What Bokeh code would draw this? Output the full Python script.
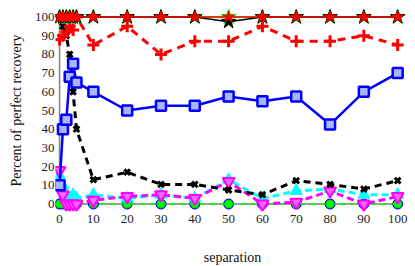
from bokeh.plotting import figure
from bokeh.models import Range1d, FixedTicker
from bokeh.embed import file_html
from bokeh.resources import INLINE

# separation values
xs = [0, 1, 2, 3, 4, 5, 10, 20, 30, 40, 50, 60, 70, 80, 90, 100]

red_star   = [100, 100, 100, 100, 100, 100, 100, 100, 100, 100, 100, 100, 100, 100, 100, 100]
black_star = [100, 100, 100, 100, 100, 100, 100, 100, 100, 100, 97.5, 100, 100, 100, 100, 100]
green_star = [100, 100, 100, 100, 100, 100, 100, 100, 100, 100, 100, 100, 100, 100, 100, 100]
red_plus   = [88, 90, 92, 95, 93, 100, 85, 95, 80, 87, 87, 95, 87, 87, 90, 85]
blue_sq    = [10, 40, 45, 68, 75, 65, 60, 50, 52.5, 52.5, 57.5, 55, 57.5, 42.5, 60, 70]
black_x    = [100, 95, 90, 80, 60, 40, 13, 17, 10.5, 10.5, 7.5, 5, 12.5, 10.5, 8, 12.5]
cyan_tri   = [15, 10, 5, 3, 5, 3, 5, 3, 5, 3, 13, 3, 7, 8, 5, 5]
mag_tri    = [18, 5, 0, 0, 0, 0, 2, 4, 5, 3, 12, 0, 1, 7, 0, 4]
green_circ = [0, 0, 0, 0, 0, 0, 0, 0, 0, 0, 0, 0, 0, 0, 0, 0]
blue_circ  = [0, 0, 0, 0, 0, 0, 0, 0, 0, 0, 0, 0, 0, 0, 0, 0]
gray_line  = [0, 0, 0, 0, 0, 0, 0, 0, 0, 0, 0, 0, 0, 0, 0, 0]

x_ticks = [0, 10, 20, 30, 40, 50, 60, 70, 80, 90, 100]
y_ticks = [0, 10, 20, 30, 40, 50, 60, 70, 80, 90, 100]

FONT = "'Liberation Serif', 'DejaVu Serif', serif"

p = figure(frame_width=354, frame_height=202, output_backend="svg", toolbar_location=None,
           x_range=Range1d(-1.2, 103.5), y_range=Range1d(-4, 104),
           min_border_left=55, min_border_right=0, min_border_top=9, min_border_bottom=47,
           x_axis_label="separation", y_axis_label="Percent of perfect recovery")
p.outline_line_color = None
p.grid.visible = False
p.background_fill_color = "white"

for ax in (p.xaxis[0], p.yaxis[0]):
    ax.axis_line_color = None
    ax.major_label_text_font = FONT
    ax.major_label_text_font_size = "13px"
    ax.major_label_text_color = "#222222"
    ax.axis_label_text_font = FONT
    ax.axis_label_text_font_size = "14px"
    ax.axis_label_text_font_style = "normal"
    ax.axis_label_text_color = "#111111"
    ax.minor_tick_line_color = None
    ax.major_tick_line_color = None
    ax.major_tick_in = 0
    ax.major_tick_out = 0

p.xaxis[0].ticker = FixedTicker(ticks=x_ticks)
p.yaxis[0].ticker = FixedTicker(ticks=y_ticks)
p.xaxis[0].major_label_standoff = 3
p.xaxis[0].axis_label_standoff = 24
p.yaxis[0].major_label_standoff = 1
p.yaxis[0].axis_label_standoff = 8

# axis lines drawn at the data origin
p.line([x_ticks[0], x_ticks[0]], [y_ticks[0], y_ticks[-1]], color="#808080", line_width=1.5)
p.line(xs, gray_line, color="#808080", line_width=1.5)

# bottom series at zero
p.scatter(xs, blue_circ, marker="circle", size=10, fill_color="#0000ff", line_color="#0000ff")
p.line(xs, green_circ, color="#00ff00", line_width=1.5, line_dash="6 4")
p.scatter(xs, green_circ, marker="circle", size=8, fill_color="#00ff00", line_color="#00cc00")

# cyan up triangles
p.line(xs, cyan_tri, color="#00ffff", line_width=3, line_dash="7 4")
p.scatter(xs, cyan_tri, marker="triangle", size=12, fill_color="#00ffff", line_color="#00ffff")

# magenta down triangles
p.line(xs, mag_tri, color="#ff00ff", line_width=3, line_dash="7 4")
p.scatter(xs, mag_tri, marker="inverted_triangle", size=12, fill_color="#ff66ff",
          line_color="#ff00ff", line_width=2)

# black x dashed
p.line(xs, black_x, color="black", line_width=3, line_dash="7 5")
p.scatter(xs, black_x, marker="x", size=8, line_color="black", line_width=3)

# blue squares solid
p.line(xs, blue_sq, color="#0000ff", line_width=2.5)
p.scatter(xs, blue_sq, marker="square", size=10, fill_color="#aab4ff",
          line_color="#0000ff", line_width=2.5)

# red plus dashed
p.line(xs, red_plus, color="#ff0000", line_width=3, line_dash="8 6")
p.scatter(xs, red_plus, marker="cross", size=12, line_color="#ff0000", line_width=3)

# stars at 100
p.line(xs, green_star, color="#00ff00", line_width=1.5)
p.scatter(xs, green_star, marker="star", size=16, fill_color="#00ff00", line_color="#00ff00")
p.line(xs, black_star, color="black", line_width=1.5)
p.scatter(xs, black_star, marker="star", size=15, fill_color="black", line_color="black")
p.line(xs, red_star, color="#ff0000", line_width=1.5)
p.scatter(xs, red_star, marker="star", size=12, fill_color="#ff0000", line_color="#ff0000")

open("out.html", "w").write(file_html(p, INLINE))
